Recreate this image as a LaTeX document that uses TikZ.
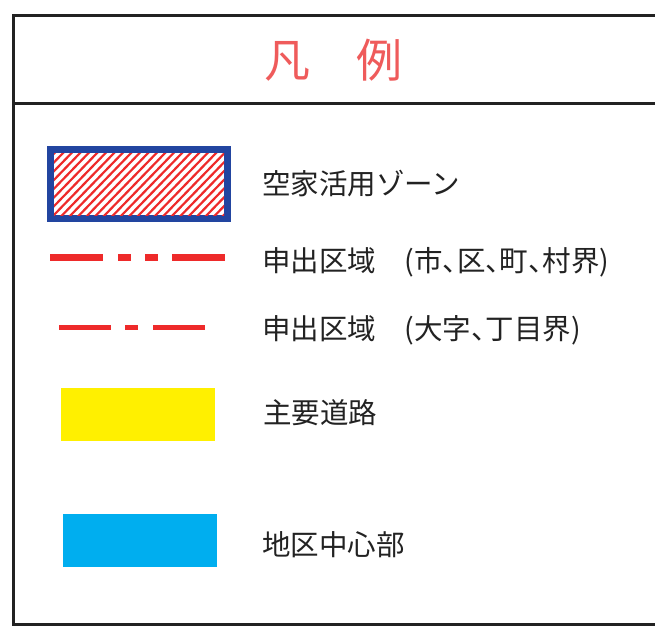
\documentclass[tikz,border=0pt]{standalone}
\usepackage{fontspec}
\newfontfamily\jp{Noto Sans CJK JP}
\newfontfamily\jphalt[RawFeature=+halt]{Noto Sans CJK JP}
\definecolor{frame}{HTML}{222222}
\definecolor{titlered}{HTML}{EF5B5B}
\definecolor{linered}{HTML}{EE2A2A}
\definecolor{zoneblue}{HTML}{2245A0}
\definecolor{roadyellow}{HTML}{FFF000}
\definecolor{centercyan}{HTML}{00AEEF}
\definecolor{txt}{HTML}{222222}
\tikzset{
  label/.style={anchor=west, inner sep=0pt, text=txt, font=\jp\fontsize{28.5}{30}\selectfont},
  swatch/.style={draw=none, inner sep=0pt},
}
\begin{document}
\begin{tikzpicture}[x=1pt,y=-1pt]
\useasboundingbox (0,0) rectangle (655,626);
\fill[white] (0,0) rectangle (655,626);
\begin{scope}
\clip (0,0) rectangle (655,626);
% frame
\draw[frame, line width=3pt] (670,16) -- (13,16) -- (13,624) -- (670,624);
\draw[frame, line width=3pt] (13,103) -- (670,103);
\end{scope}
% title
\node[inner sep=0pt, text=titlered, font=\jp\fontsize{46}{50}\selectfont] (title) at (333,60) {凡　例};
% zone swatch
\node[swatch, draw=zoneblue, line width=7pt, minimum width=177pt, minimum height=69pt] (zone) at (139,184) {};
\begin{scope}
\clip (54,153) rectangle (224,215);
\foreach \i in {-70,-61.5,...,240} {
  \draw[linered, line width=2.2pt] (54+\i,217) -- (54+\i+64,151);
}
\end{scope}
\node[label] (zoneT) at (262,184) {空家活用ゾーン};
% dash-dot-dot line
\coordinate (a1) at (50,257);
\coordinate (a2) at (225,257);
\draw[linered, line width=7pt, dash pattern=on 53pt off 15pt on 13pt off 14pt on 13pt off 14pt on 53pt] (a1) -- (a2);
\node[label] (cityT) at (262,262) {申出区域　{\jphalt (市、区、町、村界)}};
% dash-dot line
\coordinate (b1) at (59,327);
\coordinate (b2) at (205,327);
\draw[linered, line width=5pt, dash pattern=on 52pt off 14pt on 13pt off 15pt on 52pt] (b1) -- (b2);
\node[label] (azaT) at (262,330) {申出区域　{\jphalt (大字、丁目界)}};
% road
\node[swatch, fill=roadyellow, minimum width=154pt, minimum height=53pt] (road) at (138,414.5) {};
\node[label] (roadT) at (263,413) {主要道路};
% center
\node[swatch, fill=centercyan, minimum width=154pt, minimum height=53pt] (center) at (140,540.5) {};
\node[label] (centerT) at (262,545) {地区中心部};
\end{tikzpicture}
\end{document}
